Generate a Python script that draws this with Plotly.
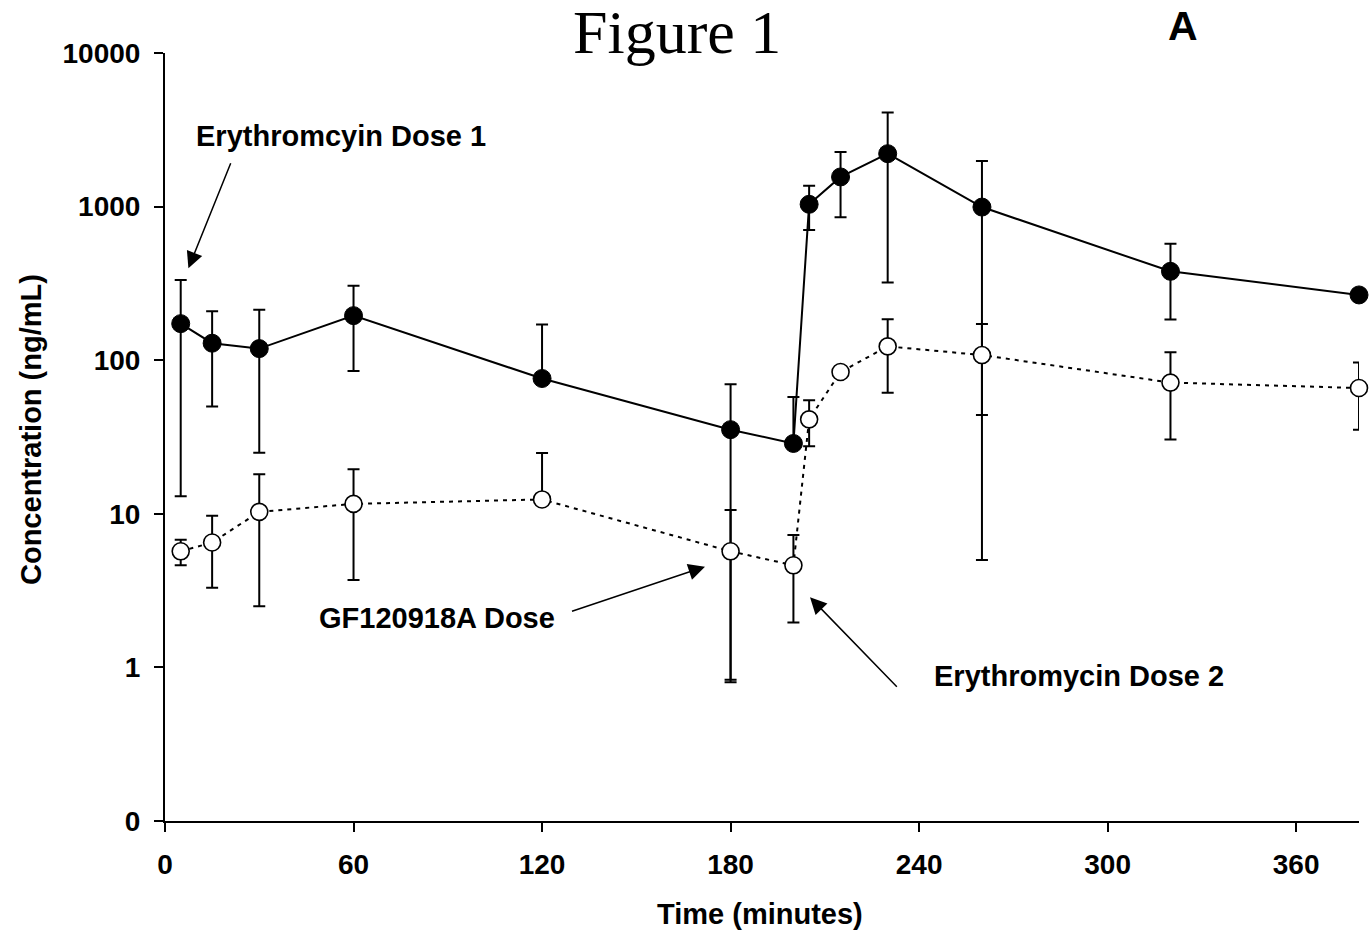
import plotly.graph_objects as go

# ---------------- data ----------------
time_min = [5, 15, 30, 60, 120, 180, 200, 205, 215, 230, 260, 320, 380]

# Erythromycin (filled circles, solid line)
ery_mean = [173, 129, 119, 195, 76, 35.3, 28.7, 1035, 1560, 2210, 993, 379, 266]
ery_sd = [160, 79, 94, 110, 94.6, 34.5, 28.8, 330, 708, 1890, 988, 195, 0]

# GF120918A (open circles, dotted line)
gf_mean = [5.70, 6.50, 10.3, 11.6, 12.4, 5.70, 4.62, 41.2, 83.8, 123, 108, 71.5, 65.9]
gf_sd = [1.08, 3.2, 7.8, 7.9, 12.5, 4.87, 2.66, 13.7, 0, 61.5, 64, 41, 30.6]

x_tickvals = [0, 60, 120, 180, 240, 300, 360]
y_tickvals = [0.1, 1, 10, 100, 1000, 10000]
y_ticktext = ["0", "1", "10", "100", "1000", "10000"]


def lower_err(mean, sd):
    # lower bars that would go below zero are not drawn on the log axis
    return [s if m - s > 0 else 0 for m, s in zip(mean, sd)]


FONT = "Liberation Sans, Arial, sans-serif"
TICKF = dict(family=FONT, size=28, color="black", weight="bold")
BOLD = dict(family=FONT, size=29, color="black", weight="bold")

fig = go.Figure()

fig.add_trace(go.Scatter(
    x=time_min, y=ery_mean, mode="lines+markers",
    line=dict(color="black", width=2),
    marker=dict(symbol="circle", size=18, color="black",
                line=dict(color="black", width=1)),
    error_y=dict(type="data", symmetric=False, array=ery_sd,
                 arrayminus=lower_err(ery_mean, ery_sd),
                 color="black", thickness=2, width=6),
    cliponaxis=False, showlegend=False, hoverinfo="skip",
))

fig.add_trace(go.Scatter(
    x=time_min, y=gf_mean, mode="lines+markers",
    line=dict(color="black", width=2, dash="4px,5px"),
    marker=dict(symbol="circle", size=17, color="white",
                line=dict(color="black", width=1.6)),
    error_y=dict(type="data", symmetric=False, array=gf_sd,
                 arrayminus=lower_err(gf_mean, gf_sd),
                 color="black", thickness=2, width=6),
    cliponaxis=False, showlegend=False, hoverinfo="skip",
))

L, R, T, B = 165, 10, 53, 111
W, H = 1369, 932
PW, PH = W - L - R, H - T - B


def px(X):
    return (X - L) / PW


def py(Y):
    return (H - B - Y) / PH


annotations = [
    dict(text="Figure 1", x=px(677), y=py(31.6), xref="paper", yref="paper",
         showarrow=False, xanchor="center", yanchor="middle",
         font=dict(family="Liberation Serif, Times New Roman, serif", size=62, color="black")),
    dict(text="A", x=px(1182.8), y=py(26.3), xref="paper", yref="paper",
         showarrow=False, xanchor="center", yanchor="middle",
         font=dict(family=FONT, size=41, color="black", weight="bold")),
    dict(text="Erythromcyin Dose 1", x=px(341.3), y=py(135.8), xref="paper", yref="paper",
         showarrow=False, xanchor="center", yanchor="middle", font=BOLD),
    dict(text="GF120918A Dose", x=px(436.5), y=py(618), xref="paper", yref="paper",
         showarrow=False, xanchor="center", yanchor="middle", font=BOLD),
    dict(text="Erythromycin Dose 2", x=px(1078.5), y=py(676), xref="paper", yref="paper",
         showarrow=False, xanchor="center", yanchor="middle", font=BOLD),
    dict(text="Time (minutes)", x=px(760), y=py(913.5), xref="paper", yref="paper",
         showarrow=False, xanchor="center", yanchor="middle", font=BOLD),
    dict(text="Concentration (ng/mL)", x=px(31), y=py(430), xref="paper", yref="paper",
         showarrow=False, xanchor="center", yanchor="middle", textangle=-90, font=BOLD),
]

# arrows: tip position and tail offsets (pixels)
arrows = [
    ((188.4, 268.3), (231.3, 161.7)),
    ((705.0, 566.7), (570.5, 611.7)),
    ((810.0, 597.3), (898.3, 688.3)),
]
for (tx, ty), (sx, sy) in arrows:
    annotations.append(dict(
        text="", x=px(tx), y=py(ty), xref="paper", yref="paper",
        ax=sx - tx, ay=sy - ty, showarrow=True,
        arrowhead=2, arrowsize=2.2, arrowwidth=1.5, arrowcolor="black",
    ))

fig.update_layout(
    width=W, height=H,
    margin=dict(l=L, r=R, t=T, b=B, pad=0),
    paper_bgcolor="white", plot_bgcolor="white",
    font=dict(family=FONT, color="black"),
    annotations=annotations,
    hovermode=False,
    xaxis=dict(
        range=[0, 380], tickvals=x_tickvals, ticktext=[str(v) for v in x_tickvals],
        showgrid=False, zeroline=False, showline=True, linecolor="black", linewidth=2,
        ticks="outside", ticklen=9, tickwidth=2, tickcolor="black",
        tickfont=TICKF, ticklabelstandoff=8,
    ),
    yaxis=dict(
        type="log", range=[-1, 4], tickvals=y_tickvals, ticktext=y_ticktext,
        showgrid=False, zeroline=False, showline=True, linecolor="black", linewidth=2,
        ticks="outside", ticklen=9, tickwidth=2, tickcolor="black",
        tickfont=TICKF, ticklabelstandoff=8,
    ),
)

fig.write_html(
    "out.html",
    config={"displayModeBar": False, "staticPlot": True},
    post_script="document.body.style.margin='0';document.body.style.overflow='hidden';",
)
